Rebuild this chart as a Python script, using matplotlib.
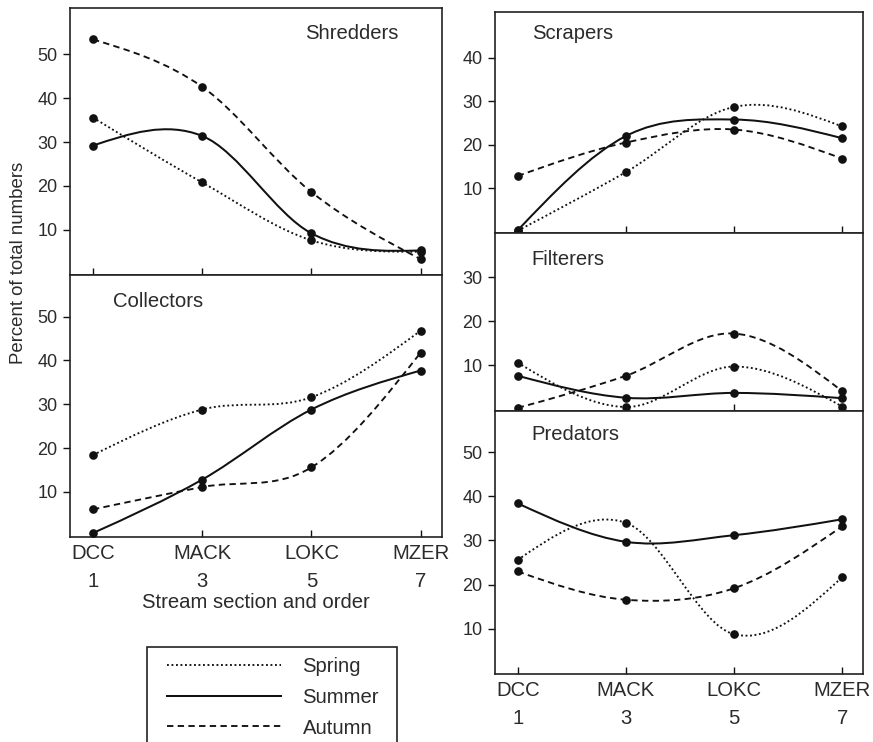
import numpy as np
import matplotlib
matplotlib.use("Agg")
import matplotlib.pyplot as plt
from matplotlib.path import Path
from matplotlib.patches import PathPatch, Rectangle
from matplotlib.lines import Line2D

plt.rcParams['font.family'] = ['Liberation Sans', 'DejaVu Sans']

# ---- data -------------------------------------------------------------
sites = ["DCC", "MACK", "LOKC", "MZER"]
orders = [1, 3, 5, 7]
seasons = ["Spring", "Summer", "Autumn"]

shredders_spring = [35.6, 20.8, 7.6, 5.0]
shredders_summer = [29.2, 31.4, 9.2, 5.3]
shredders_autumn = [53.4, 42.6, 18.6, 3.3]

collectors_spring = [18.4, 28.8, 31.6, 46.8]
collectors_summer = [0.6, 12.8, 28.8, 37.7]
collectors_autumn = [6.0, 11.1, 15.6, 41.8]

scrapers_spring = [0.2, 13.7, 28.7, 24.2]
scrapers_summer = [0.3, 22.0, 25.8, 21.5]
scrapers_autumn = [12.8, 20.5, 23.5, 16.8]

filterers_spring = [10.6, 0.5, 9.7, 0.6]
filterers_summer = [7.6, 2.6, 3.7, 2.5]
filterers_autumn = [0.3, 7.6, 17.2, 4.1]

predators_spring = [25.6, 34.0, 8.8, 21.7]
predators_summer = [38.4, 29.7, 31.2, 34.8]
predators_autumn = [23.0, 16.6, 19.2, 33.2]

# ---- styling ----------------------------------------------------------
INK = "#111111"
TXT = "#2b2b2b"
FS = 14.6
STYLES = {
    "Spring": dict(linestyle=(0, (1, 1.4)), linewidth=1.35),
    "Summer": dict(linestyle="-", linewidth=1.45),
    "Autumn": dict(linestyle=(0, (3.4, 2.3)), linewidth=1.35),
}

W, H = 873, 742
fig = plt.figure(figsize=(W / 100, H / 100), dpi=100)


def rect(x0, y0, x1, y1):
    """Pixel box (left, top, right, bottom) -> figure fraction rect."""
    return [x0 / W, 1 - y1 / H, (x1 - x0) / W, (y1 - y0) / H]


def smooth_path(x, y):
    """Piecewise cubic Bezier through the points (Catmull-Rom style)."""
    x = np.asarray(x, float)
    y = np.asarray(y, float)
    n = len(x)
    sec = np.diff(y) / np.diff(x)
    m = np.empty(n)
    m[1:-1] = (y[2:] - y[:-2]) / (x[2:] - x[:-2])
    m[0] = (3 * sec[0] - m[1]) / 2
    m[-1] = (3 * sec[-1] - m[-2]) / 2
    verts = [(x[0], y[0])]
    codes = [Path.MOVETO]
    for i in range(n - 1):
        h = x[i + 1] - x[i]
        verts += [(x[i] + h / 3, y[i] + m[i] * h / 3),
                  (x[i + 1] - h / 3, y[i + 1] - m[i + 1] * h / 3),
                  (x[i + 1], y[i + 1])]
        codes += [Path.CURVE4] * 3
    return Path(verts, codes)


def panel(box, ylim, yticks, title, title_pos, series, show_x=False):
    ax = fig.add_axes(rect(*box))
    for season, vals in zip(seasons, series):
        st = STYLES[season]
        ax.add_patch(PathPatch(smooth_path(orders, vals), fill=False,
                               edgecolor=INK, capstyle="butt", **st))
        ax.plot(orders, vals, "o", color=INK, markersize=5.2, zorder=5,
                clip_on=False)
    ax.set_xlim(0.58, 7.39)
    ax.set_ylim(*ylim)
    ax.set_yticks(yticks)
    ax.set_xticks(orders)
    ax.tick_params(axis="y", direction="out", length=5, width=1.0,
                   pad=4, labelsize=13, colors=INK, labelcolor=TXT)
    ax.tick_params(axis="x", direction="in", length=5, width=1.0,
                   pad=5, labelsize=FS, colors=INK, labelcolor=TXT)
    if show_x:
        ax.set_xticklabels([f"{s}\n{o}" for s, o in zip(sites, orders)],
                           linespacing=1.6)
    else:
        ax.set_xticklabels([])
    for sp in ax.spines.values():
        sp.set_linewidth(1.2)
        sp.set_color("#222222")
    ax.text(title_pos[0], title_pos[1], title, transform=ax.transAxes,
            ha="left", va="center", fontsize=FS, color=TXT)
    return ax


# left column
panel((70, 8.3, 442, 275), (-0.3, 60.5), [10, 20, 30, 40, 50], "Shredders",
      (0.632, 0.907), [shredders_spring, shredders_summer, shredders_autumn])
panel((70, 275, 442, 537), (-0.3, 59.5), [10, 20, 30, 40, 50], "Collectors",
      (0.116, 0.898), [collectors_spring, collectors_summer, collectors_autumn],
      show_x=True)

# right column
panel((495, 12.3, 863.3, 233.3), (-0.4, 50.5), [10, 20, 30, 40], "Scrapers",
      (0.0996, 0.906), [scrapers_spring, scrapers_summer, scrapers_autumn])
panel((495, 233.3, 863.3, 410.5), (-0.3, 40), [10, 20, 30], "Filterers",
      (0.0996, 0.853), [filterers_spring, filterers_summer, filterers_autumn])
panel((495, 410.5, 863.3, 674), (-0.2, 59.4), [10, 20, 30, 40, 50], "Predators",
      (0.0996, 0.908), [predators_spring, predators_summer, predators_autumn],
      show_x=True)

# axis titles
fig.text(256 / W, 1 - 603 / H, "Stream section and order", ha="center",
         va="center", fontsize=FS, color=TXT)
fig.text(19 / W, 1 - 263 / H, "Percent of total numbers", ha="center",
         va="center", rotation=90, fontsize=13.4, color=TXT)

# legend
handles = [Line2D([], [], color=INK, **STYLES[s]) for s in seasons]
fig.legend(handles, seasons, loc="upper left",
           bbox_to_anchor=(167 / W, 1 - 657 / H), frameon=False,
           borderpad=0, borderaxespad=0, handlelength=5.6,
           handletextpad=1.08, labelspacing=0.58, fontsize=FS,
           labelcolor=TXT)
fig.patches.append(Rectangle((146.7 / W, 1 - 760 / H), 250 / W, 113.3 / H,
                             transform=fig.transFigure, fill=False,
                             edgecolor="#222222", linewidth=1.2))

fig.savefig("out.png", dpi=100)
